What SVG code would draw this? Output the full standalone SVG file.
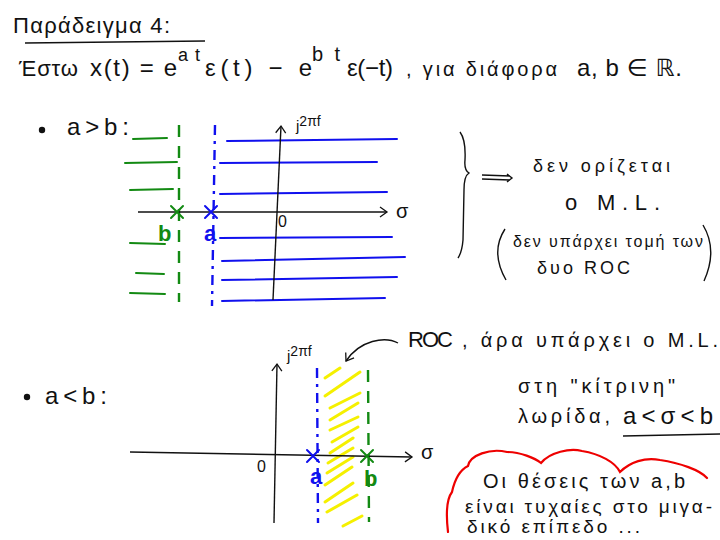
<svg xmlns="http://www.w3.org/2000/svg" width="720" height="540" viewBox="0 0 720 540">
<style>
text{font-family:"Liberation Sans","DejaVu Sans",sans-serif;fill:#111;}
.ax{stroke:#111;stroke-width:1.4;fill:none;}
.g{stroke:#138a13;stroke-width:2;fill:none;stroke-linecap:round;}
.b{stroke:#1010ee;stroke-width:2;fill:none;stroke-linecap:round;}
.y{stroke:#f5f000;stroke-width:3;fill:none;stroke-linecap:round;}
.gd{stroke:#138a13;stroke-width:2.4;fill:none;stroke-dasharray:12 9;}
.bd{stroke:#1010ee;stroke-width:2.4;fill:none;stroke-dasharray:10 6 3 6;}
.gt{fill:#138a13;font-weight:bold;}
.bt{fill:#1010ee;font-weight:bold;}
</style>
<defs>
<marker id="ah" markerWidth="12" markerHeight="12" refX="10" refY="6" orient="auto" markerUnits="userSpaceOnUse">
<polyline points="3,1 10,6 3,11" fill="none" stroke="#111" stroke-width="1.3"/>
</marker>
</defs>

<g id="title">
<text x="13" y="33" font-size="22" textLength="157">Παράδειγμα 4:</text>
<line x1="25" y1="43" x2="205" y2="41" class="ax"/>
</g>

<g id="equation">
<text x="19" y="76" font-size="22" textLength="59">Έστω</text>
<text x="90" y="76" font-size="24" textLength="87">x(t) = e</text>
<text x="178" y="61" font-size="18" textLength="22">at</text>
<text x="205" y="76" font-size="24" textLength="107">ε(t) − e</text>
<text x="312" y="61" font-size="20" textLength="28">bt</text>
<text x="347" y="76" font-size="24" textLength="46">ε(−t)</text>
<text x="406" y="76" font-size="20" textLength="151">, για διάφορα</text>
<text x="577" y="76" font-size="24" textLength="105">a, b ∈ ℝ.</text>
</g>

<g id="case1-label">
<circle cx="42" cy="130" r="3.2" fill="#111"/>
<text x="67" y="135" font-size="24" textLength="62">a&gt;b:</text>
</g>

<g id="plane1">
<g id="hatch-green">
<line x1="133" y1="139" x2="167" y2="138" class="g"/>
<line x1="125" y1="163" x2="177" y2="162" class="g"/>
<line x1="130" y1="190" x2="173" y2="189" class="g"/>
<line x1="130" y1="243" x2="165" y2="244" class="g"/>
<line x1="136" y1="273" x2="164" y2="274" class="g"/>
<line x1="130" y1="293" x2="165" y2="294" class="g"/>
</g>
<g id="hatch-blue">
<line x1="227" y1="141" x2="397" y2="139" class="b"/>
<line x1="220" y1="163" x2="377" y2="162" class="b"/>
<line x1="220" y1="194" x2="387" y2="192" class="b"/>
<line x1="220" y1="238" x2="392" y2="237" class="b"/>
<line x1="222" y1="261" x2="405" y2="257" class="b"/>
<line x1="222" y1="280" x2="397" y2="277" class="b"/>
<line x1="222" y1="301" x2="385" y2="298" class="b"/>
</g>
<line x1="179" y1="125" x2="179" y2="302" class="gd"/>
<line x1="215" y1="125" x2="212" y2="306" class="bd"/>
<line x1="138" y1="212" x2="387" y2="212" class="ax" marker-end="url(#ah)"/>
<line x1="273" y1="300" x2="281" y2="126" class="ax" marker-end="url(#ah)"/>
<text x="396" y="218" font-size="20">σ</text>
<text x="296" y="131" font-size="15">j<tspan dy="-5" font-size="14">2πf</tspan></text>
<text x="278" y="227" font-size="16">0</text>
<g id="pole-b">
<path d="M171,206 L183,218 M183,206 L171,218" class="g" stroke-width="2.4"/>
<text x="158" y="241" font-size="22" class="gt">b</text>
</g>
<g id="pole-a">
<path d="M205,206 L217,218 M217,206 L205,218" class="b" stroke-width="2.4"/>
<text x="204" y="241" font-size="22" class="bt">a</text>
</g>
</g>

<g id="conclusion1">
<path d="M460,132 Q466,140 465,160 Q464,170 469,173 Q464,176 464,190 L463,240 Q462,252 458,258" class="ax"/>
<path d="M482,175 L510,176 M482,179 L510,180 M507,174 L512,178 L507,182" class="ax" stroke-width="1.2"/>
<text x="533" y="172" font-size="18" textLength="137">δεν ορίζεται</text>
<text x="565" y="210" font-size="22" textLength="95">ο  M.L.</text>
<path d="M505,229 Q490,252 506,280" class="ax" stroke-width="1.3"/>
<path d="M703,225 Q718,250 704,281" class="ax" stroke-width="1.3"/>
<text x="513" y="247" font-size="16" textLength="190">δεν υπάρχει τομή των</text>
<text x="537" y="274" font-size="18" textLength="93">δυο  ROC</text>
</g>

<g id="case2-label">
<circle cx="27" cy="397" r="3.2" fill="#111"/>
<text x="45" y="404" font-size="24" textLength="62">a&lt;b:</text>
</g>

<g id="plane2">
<g id="roc-strip">
<line x1="325" y1="378" x2="340" y2="368" class="y"/>
<line x1="325" y1="396" x2="360" y2="372" class="y"/>
<line x1="330" y1="408" x2="360" y2="393" class="y"/>
<line x1="330" y1="420" x2="358" y2="403" class="y"/>
<line x1="330" y1="430" x2="358" y2="417" class="y"/>
<line x1="332" y1="442" x2="358" y2="427" class="y"/>
<line x1="330" y1="453" x2="353" y2="438" class="y"/>
<line x1="328" y1="463" x2="353" y2="448" class="y"/>
<line x1="327" y1="473" x2="353" y2="457" class="y"/>
<line x1="325" y1="485" x2="352" y2="467" class="y"/>
<line x1="325" y1="502" x2="353" y2="483" class="y"/>
<line x1="327" y1="512" x2="357" y2="495" class="y"/>
<line x1="343" y1="526" x2="362" y2="516" class="y"/>
</g>
<line x1="317" y1="368" x2="318" y2="523" class="bd"/>
<line x1="368" y1="370" x2="369" y2="522" class="gd"/>
<line x1="130" y1="452" x2="412" y2="457" class="ax" marker-end="url(#ah)"/>
<line x1="274" y1="523" x2="277" y2="364" class="ax" marker-end="url(#ah)"/>
<text x="421" y="459" font-size="20">σ</text>
<text x="287" y="361" font-size="15">j<tspan dy="-5" font-size="14">2πf</tspan></text>
<text x="257" y="472" font-size="16">0</text>
<g id="pole-a2">
<path d="M307,450 L319,462 M319,450 L307,462" class="b" stroke-width="2.4"/>
<text x="310" y="484" font-size="22" class="bt">a</text>
</g>
<g id="pole-b2">
<path d="M361,450 L373,462 M373,450 L361,462" class="g" stroke-width="2.4"/>
<text x="364" y="486" font-size="22" class="gt">b</text>
</g>
</g>

<g id="connectors">
<path d="M398,343 C385,336 360,340 346,361" class="ax" marker-end="url(#ah)"/>
</g>

<g id="conclusion2">
<text x="408" y="347" font-size="22" textLength="45">ROC</text>
<text x="462" y="347" font-size="20" textLength="256">, άρα  υπάρχει  ο  M.L.</text>
<text x="518" y="393" font-size="20" textLength="157">στη "κίτρινη"</text>
<text x="518" y="423" font-size="20" textLength="92">λωρίδα,</text>
<text x="623" y="424" font-size="24" textLength="90">a&lt;σ&lt;b</text>
<line x1="623" y1="436" x2="720" y2="434" class="ax"/>
</g>

<g id="note">
<path d="M448,532 C446,515 446,500 452,492 C455,478 460,470 468,466 C470,455 490,448 507,452 C520,452 535,458 541,463 C550,452 570,448 582,451 C600,454 615,462 620,472 C630,462 645,457 660,460 C680,463 700,470 707,478" fill="none" stroke="#ee0000" stroke-width="2.2" stroke-linecap="round"/>
<text x="483" y="488" font-size="20" textLength="202">Οι θέσεις των a,b</text>
<text x="465" y="513" font-size="19" textLength="247">είναι τυχαίες στο μιγα-</text>
<text x="467" y="533" font-size="19" textLength="173">δικό επίπεδο ...</text>
</g>
</svg>
